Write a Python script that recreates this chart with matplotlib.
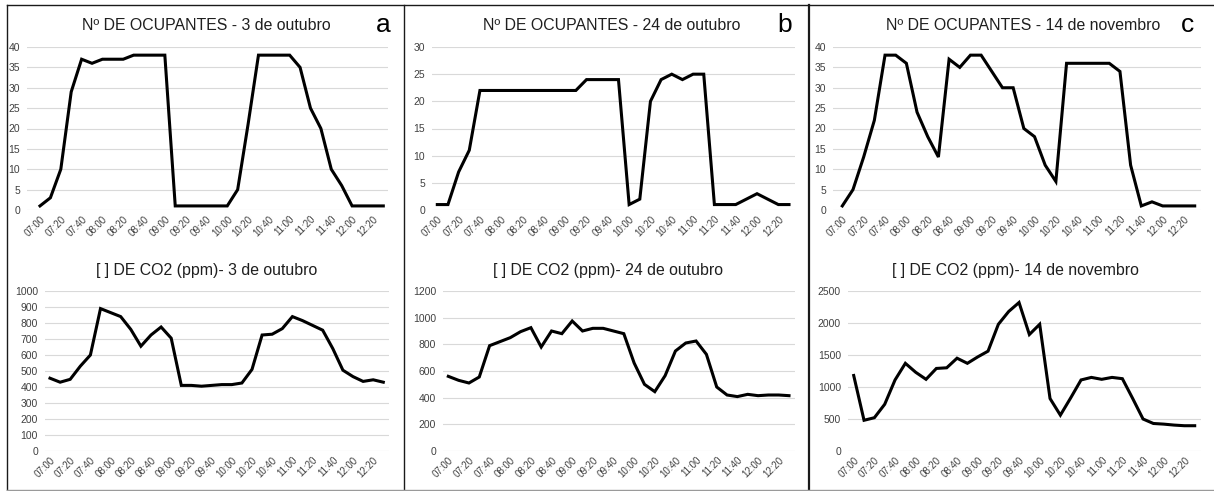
import matplotlib
matplotlib.use("Agg")
import matplotlib.pyplot as plt
from matplotlib.lines import Line2D

plt.rcParams["font.family"] = ["Liberation Sans", "DejaVu Sans"]

# Time categories (10-minute steps)
times = ["07:00", "07:10", "07:20", "07:30", "07:40", "07:50", "08:00", "08:10",
         "08:20", "08:30", "08:40", "08:50", "09:00", "09:10", "09:20", "09:30",
         "09:40", "09:50", "10:00", "10:10", "10:20", "10:30", "10:40", "10:50",
         "11:00", "11:10", "11:20", "11:30", "11:40", "11:50", "12:00", "12:10",
         "12:20", "12:30"]

# Number of occupants
occ_3out = [1, 3, 10, 29, 37, 36, 37, 37, 37, 38, 38, 38, 38, 1, 1, 1, 1, 1, 1,
            5, 21, 38, 38, 38, 38, 35, 25, 20, 10, 6, 1, 1, 1, 1]
occ_24out = [1, 1, 7, 11, 22, 22, 22, 22, 22, 22, 22, 22, 22, 22, 24, 24, 24, 24,
             1, 2, 20, 24, 25, 24, 25, 25, 1, 1, 1, 2, 3, 2, 1, 1]
occ_14nov = [1, 5, 13, 22, 38, 38, 36, 24, 18, 13, 37, 35, 38, 38, 34, 30, 30, 20,
             18, 11, 7, 36, 36, 36, 36, 36, 34, 11, 1, 2, 1, 1, 1, 1]

# CO2 concentration (ppm)
co2_3out = [455, 430, 448, 530, 600, 890, 865, 840, 760, 655, 725, 775, 705, 410,
            410, 405, 410, 415, 415, 425, 510, 725, 730, 765, 840, 815, 785, 755,
            640, 505, 465, 435, 445, 430]
co2_24out = [560, 530, 510, 555, 790, 820, 850, 895, 925, 780, 900, 880, 975, 900,
             920, 920, 900, 880, 660, 500, 445, 565, 750, 810, 825, 725, 480, 420,
             408, 425, 415, 420, 420, 415]
co2_14nov = [1180, 480, 520, 730, 1110, 1370, 1230, 1120, 1290, 1300, 1450, 1370,
             1470, 1560, 1980, 2180, 2320, 1820, 1980, 820, 560, 830, 1110, 1150,
             1120, 1150, 1130, 820, 500, 430, 420, 405, 395, 395]

W, H = 1214, 491
fig = plt.figure(figsize=(W / 100, H / 100), dpi=100)
fig.patch.set_facecolor("white")


def px_axes(left, right, top, bottom):
    return fig.add_axes([left / W, 1 - bottom / H, (right - left) / W, (bottom - top) / H])


def draw(values, ymax, ystep, left, right, top, bottom, x0, x_last, title, title_x, title_y):
    ax = px_axes(left, right, top, bottom)
    n = len(values)
    sp = (x_last - x0) / (n - 1)
    ax.plot(range(n), values, color="black", lw=2.2, solid_joinstyle="miter")
    ax.set_xlim((left - x0) / sp, (right - x0) / sp)
    ax.set_ylim(0, ymax)
    ax.set_yticks(range(0, ymax + 1, ystep))
    ax.set_xticks(range(0, n, 2))
    ax.set_xticklabels(times[::2], rotation=45, ha="right", rotation_mode="anchor",
                       fontsize=7, color="#404040")
    ax.tick_params(axis="y", labelsize=7.5, labelcolor="#404040", length=0, pad=5)
    ax.tick_params(axis="x", length=0, pad=3)
    ax.grid(axis="y", color="#d9d9d9", lw=0.8)
    ax.set_axisbelow(True)
    for s in ax.spines.values():
        s.set_visible(False)
    fig.text(title_x / W, 1 - title_y / H, title, ha="center", va="center",
             fontsize=11.4, color="#1f1f1f")
    return ax


# Panel a
draw(occ_3out, 40, 5, 27, 388, 47, 210, 40, 383.3,
     "Nº DE OCUPANTES - 3 de outubro", 206, 25)
draw(co2_3out, 1000, 100, 45, 389, 291, 451, 50, 383.3,
     "[ ] DE CO2 (ppm)- 3 de outubro", 207, 270)
# Panel b
draw(occ_24out, 30, 5, 432, 795, 47, 210, 437.3, 789,
     "Nº DE OCUPANTES - 24 de outubro", 612, 25)
draw(co2_24out, 1200, 200, 443, 795, 291, 451, 448.3, 789,
     "[ ] DE CO2 (ppm)- 24 de outubro", 608, 270)
# Panel c
draw(occ_14nov, 40, 5, 833, 1201, 47, 210, 842.3, 1194.7,
     "Nº DE OCUPANTES - 14 de novembro", 1023, 25)
draw(co2_14nov, 2500, 500, 848, 1201, 291, 451, 853.7, 1194.7,
     "[ ] DE CO2 (ppm)- 14 de novembro", 1015, 270)

# Panel letters
for letter, x in (("a", 383), ("b", 785), ("c", 1188)):
    fig.text(x / W, 1 - 25 / H, letter, ha="center", va="center", fontsize=19, color="black")


# Frame around the panels
def px_line(x0, y0, x1, y1, color="#1a1a1a", lw=1.0):
    fig.add_artist(Line2D([x0 / W, x1 / W], [1 - y0 / H, 1 - y1 / H],
                          transform=fig.transFigure, color=color, lw=lw))


px_line(7, 5, W, 5)
px_line(7, 5, 7, 490)
px_line(404, 5, 404, 490)
px_line(809, 5, 809, 490, lw=1.6)
px_line(7, 490, W, 490, color="#9a9a9a")

fig.savefig("out.png", dpi=100)
